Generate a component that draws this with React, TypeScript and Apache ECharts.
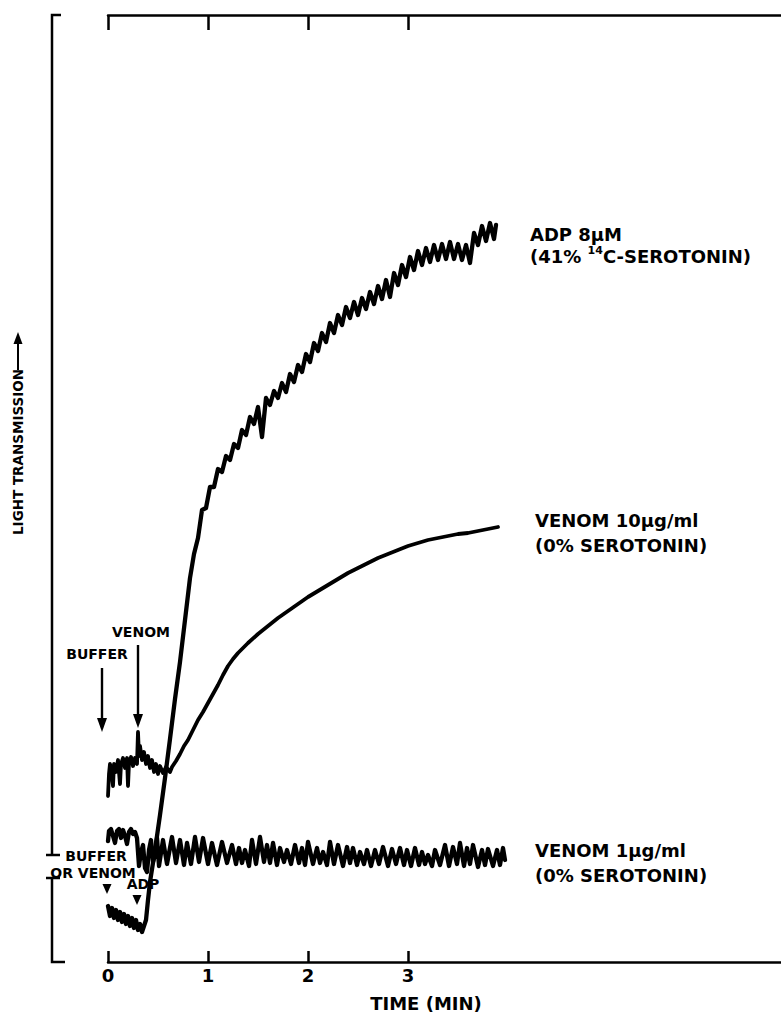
import React, { useEffect, useRef } from "react";
import * as echarts from "echarts";

// Time axis tick values (min)
const timeTicks = [0, 1, 2, 3];

// Traces: [time (min), light transmission (arbitrary units)]
const adpTrace: number[][] = [
  [0.0, 5.6], [0.02, 4.6], [0.04, 5.4], [0.06, 4.4], [0.08, 5.2], [0.1, 4.2], [0.12, 5.0], [0.14, 4.0],
  [0.16, 4.8], [0.18, 3.8], [0.2, 4.6], [0.22, 3.6], [0.24, 4.4], [0.26, 3.4], [0.28, 4.2], [0.3, 3.2],
  [0.32, 3.8], [0.34, 3.0], [0.36, 3.6], [0.38, 4.2], [0.4, 6.2], [0.42, 8.0], [0.47, 11.2], [0.52, 14.7],
  [0.57, 18.4], [0.62, 22.3], [0.67, 26.3], [0.72, 30.0], [0.77, 34.2],
  [0.82, 38.4], [0.86, 40.8], [0.9, 42.4], [0.94, 45.2], [0.98, 45.4], [1.02, 47.5], [1.06, 47.5], [1.1, 49.3],
  [1.14, 49.0], [1.18, 50.6], [1.22, 50.2], [1.26, 51.8], [1.3, 51.4], [1.34, 53.2], [1.38, 52.7], [1.42, 54.5],
  [1.46, 53.8], [1.5, 55.5], [1.54, 52.5], [1.58, 56.4], [1.62, 55.7], [1.66, 57.1], [1.7, 56.4], [1.74, 57.9],
  [1.78, 57.0], [1.82, 58.8], [1.86, 58.0], [1.9, 59.7], [1.94, 59.0], [1.98, 60.8], [2.02, 60.0], [2.06, 61.9],
  [2.1, 61.1], [2.14, 62.9], [2.18, 62.0], [2.22, 63.9], [2.26, 62.9], [2.3, 64.7], [2.34, 63.7], [2.38, 65.5],
  [2.42, 64.4], [2.46, 66.0], [2.5, 64.7], [2.54, 66.4], [2.58, 65.3], [2.62, 67.0], [2.66, 65.8], [2.7, 67.6],
  [2.74, 66.3], [2.78, 68.2], [2.82, 66.5], [2.86, 68.9], [2.9, 67.7], [2.94, 69.7], [2.98, 68.5], [3.02, 70.5],
  [3.06, 69.2], [3.1, 71.1], [3.14, 69.7], [3.18, 71.4], [3.22, 70.0], [3.26, 71.7], [3.3, 70.2], [3.34, 71.8],
  [3.38, 70.3], [3.42, 72.0], [3.46, 70.3], [3.5, 71.8], [3.54, 70.2], [3.58, 71.7], [3.62, 69.9], [3.66, 72.9],
  [3.7, 71.7], [3.74, 73.6], [3.78, 72.1], [3.82, 73.9], [3.86, 72.3], [3.88, 73.7],
];

const venom10Trace: number[][] = [
  [0.0, 16.6], [0.01, 18.8], [0.02, 19.8], [0.04, 18.6], [0.05, 17.6], [0.06, 19.8], [0.08, 19.0], [0.1, 20.2],
  [0.12, 17.8], [0.13, 19.8], [0.15, 20.4], [0.17, 19.4], [0.19, 20.4], [0.2, 17.6], [0.21, 19.9], [0.23, 20.5],
  [0.25, 19.6], [0.27, 20.4], [0.29, 19.8], [0.3, 23.0], [0.31, 20.6], [0.32, 21.6], [0.34, 20.2], [0.36, 21.0],
  [0.38, 19.8], [0.4, 20.6], [0.42, 19.4], [0.44, 20.2], [0.46, 19.0], [0.48, 19.8], [0.5, 18.8], [0.52, 19.6],
  [0.55, 18.9], [0.58, 19.5], [0.62, 19.0], [0.64, 19.5], [0.68, 20.1], [0.72, 20.8], [0.76, 21.6], [0.8, 22.2],
  [0.85, 23.2], [0.9, 24.2], [0.95, 25.0], [1.0, 25.9], [1.05, 26.8], [1.1, 27.7], [1.15, 28.7], [1.2, 29.6],
  [1.25, 30.3], [1.3, 30.9], [1.4, 31.9], [1.5, 32.8], [1.6, 33.6], [1.7, 34.4], [1.8, 35.1], [1.9, 35.8],
  [2.0, 36.5], [2.1, 37.1], [2.2, 37.7], [2.3, 38.3], [2.4, 38.9], [2.5, 39.4], [2.6, 39.9], [2.7, 40.4],
  [2.8, 40.8], [2.9, 41.2], [3.0, 41.6], [3.1, 41.9], [3.2, 42.2], [3.3, 42.4], [3.4, 42.6], [3.5, 42.8],
  [3.6, 42.9], [3.7, 43.1], [3.8, 43.3], [3.9, 43.5],
];

const venom1Trace: number[][] = [
  [0.0, 12.1], [0.01, 13.1], [0.03, 13.3], [0.05, 12.6], [0.07, 11.9], [0.09, 13.1], [0.11, 13.3], [0.13, 12.4],
  [0.15, 13.2], [0.17, 12.6], [0.19, 11.8], [0.21, 13.0], [0.23, 13.3], [0.25, 12.8], [0.27, 13.0], [0.29, 12.4],
  [0.31, 9.6], [0.33, 11.0], [0.35, 11.7], [0.37, 9.4], [0.39, 9.0], [0.41, 11.2], [0.43, 12.2], [0.45, 10.0],
  [0.47, 10.7], [0.49, 12.4], [0.51, 9.6], [0.55, 12.2], [0.59, 9.8], [0.64, 12.5], [0.68, 9.9], [0.72, 12.2],
  [0.76, 9.7], [0.79, 11.9], [0.83, 9.8], [0.87, 12.5], [0.91, 10.0], [0.95, 12.4], [1.0, 9.8], [1.04, 11.9],
  [1.09, 9.7], [1.14, 12.0], [1.19, 9.9], [1.24, 11.7], [1.28, 9.8], [1.31, 11.4], [1.34, 9.9], [1.37, 11.2],
  [1.41, 9.6], [1.44, 12.2], [1.48, 9.8], [1.52, 12.5], [1.56, 10.0], [1.59, 11.7], [1.62, 9.9], [1.65, 11.9],
  [1.69, 9.7], [1.72, 11.4], [1.76, 10.0], [1.79, 11.2], [1.83, 9.8], [1.87, 11.7], [1.91, 9.9], [1.94, 11.4],
  [1.97, 9.7], [2.0, 12.0], [2.05, 9.8], [2.09, 11.4], [2.12, 9.9], [2.15, 11.0], [2.19, 9.7], [2.22, 12.0],
  [2.26, 9.8], [2.3, 11.7], [2.35, 9.6], [2.39, 11.5], [2.42, 9.9], [2.45, 11.4], [2.49, 9.7], [2.52, 11.0],
  [2.56, 9.8], [2.59, 11.2], [2.63, 9.6], [2.67, 11.2], [2.71, 9.8], [2.75, 11.5], [2.8, 9.6], [2.84, 11.3],
  [2.88, 9.8], [2.92, 11.4], [2.96, 9.7], [2.99, 11.2], [3.03, 9.6], [3.07, 11.4], [3.11, 9.7], [3.14, 11.0],
  [3.17, 9.8], [3.2, 10.7], [3.24, 9.6], [3.27, 11.2], [3.32, 9.7], [3.37, 11.7], [3.41, 9.6], [3.45, 11.5],
  [3.49, 9.8], [3.52, 11.9], [3.56, 9.6], [3.59, 11.4], [3.62, 9.8], [3.65, 11.7], [3.7, 9.5], [3.74, 11.2],
  [3.77, 9.7], [3.8, 11.3], [3.85, 9.6], [3.89, 11.2], [3.92, 9.7], [3.95, 11.4], [3.97, 10.2],
];

const FONT = '"DejaVu Sans", "Liberation Sans", Arial, sans-serif';
const INK = "#000";

function label(x: number, y: number, text: string, size: number, align = "left") {
  return {
    type: "text",
    x,
    y,
    silent: true,
    style: {
      text,
      fill: INK,
      font: `bold ${size}px ${FONT}`,
      textAlign: align,
      textVerticalAlign: "middle",
    },
  };
}

function downArrow(x: number, yTop: number, yTip: number) {
  return [
    { type: "line", silent: true, shape: { x1: x, y1: yTop, x2: x, y2: yTip - 8 }, style: { stroke: INK, lineWidth: 2.4 } },
    {
      type: "polygon",
      silent: true,
      shape: { points: [[x - 5, yTip - 14], [x + 5, yTip - 14], [x, yTip]] },
      style: { fill: INK },
    },
  ];
}

function triangle(x: number, y: number) {
  return {
    type: "polygon",
    silent: true,
    shape: { points: [[x - 4.5, y - 5], [x + 4.5, y - 5], [x, y + 5]] },
    style: { fill: INK },
  };
}

function traceSeries(name: string, data: number[][], width: number) {
  return {
    name,
    type: "line",
    data,
    symbol: "none",
    showSymbol: false,
    clip: false,
    silent: true,
    lineStyle: { color: INK, width, join: "round", cap: "round" },
  };
}

export default function App() {
  const ref = useRef<HTMLDivElement>(null);

  useEffect(() => {
    if (!ref.current) return;
    const chart = echarts.init(ref.current, null, { renderer: "svg" });

    const axisLineStyle = { color: INK, width: 2.5 };

    const option: any = {
      animation: false,
      backgroundColor: "#fff",
      grid: { left: 108, right: 0, top: 15, bottom: 50, containLabel: false },
      xAxis: [
        {
          type: "value",
          position: "bottom",
          min: 0,
          max: 6.73,
          axisLine: { show: true, lineStyle: axisLineStyle },
          axisTick: { show: true, inside: true, length: 11, customValues: timeTicks, lineStyle: axisLineStyle },
          axisLabel: {
            show: true,
            customValues: timeTicks,
            formatter: (v: number) => String(v),
            color: INK,
            fontSize: 18,
            fontWeight: "bold",
            fontFamily: FONT,
            margin: 4,
          },
          splitLine: { show: false },
        },
        {
          type: "value",
          position: "top",
          min: 0,
          max: 6.73,
          axisLine: { show: true, lineStyle: axisLineStyle },
          axisTick: { show: true, inside: true, length: 15, customValues: timeTicks, lineStyle: axisLineStyle },
          axisLabel: { show: false },
          splitLine: { show: false },
        },
      ],
      yAxis: { type: "value", min: 0, max: 94.7, show: false },
      series: [
        traceSeries("ADP 8µM", adpTrace, 4.3),
        traceSeries("VENOM 10µg/ml", venom10Trace, 3.8),
        traceSeries("VENOM 1µg/ml", venom1Trace, 4.3),
      ],
      graphic: {
        elements: [
          // left axis with break
          { type: "polyline", silent: true, shape: { points: [[61, 15], [52, 15], [52, 855]] }, style: { stroke: INK, lineWidth: 2.5, fill: null } },
          { type: "line", silent: true, shape: { x1: 46, y1: 855, x2: 60, y2: 855 }, style: { stroke: INK, lineWidth: 2.5 } },
          { type: "line", silent: true, shape: { x1: 46, y1: 878, x2: 60, y2: 878 }, style: { stroke: INK, lineWidth: 2.5 } },
          { type: "polyline", silent: true, shape: { points: [[52, 878], [52, 962], [65, 962]] }, style: { stroke: INK, lineWidth: 2.5, fill: null } },
          // y-axis title with arrow
          {
            type: "group",
            x: 18,
            y: 535,
            rotation: Math.PI / 2,
            silent: true,
            children: [
              {
                type: "text",
                x: 0,
                y: 0,
                style: { text: "LIGHT TRANSMISSION", fill: INK, font: `bold 13.5px ${FONT}`, textAlign: "left", textVerticalAlign: "middle" },
              },
              { type: "line", shape: { x1: 165, y1: 0, x2: 194, y2: 0 }, style: { stroke: INK, lineWidth: 2 } },
              { type: "polygon", shape: { points: [[191, -4.5], [191, 4.5], [203, 0]] }, style: { fill: INK } },
            ],
          },
          // x-axis title
          label(426, 1003, "TIME (MIN)", 18, "center"),
          // right-side trace labels
          label(530, 234, "ADP 8µM", 18),
          {
            type: "text",
            x: 530,
            y: 256,
            silent: true,
            style: {
              text: "(41% {sup|14}C-SEROTONIN)",
              fill: INK,
              font: `bold 18px ${FONT}`,
              lineHeight: 22,
              textAlign: "left",
              textVerticalAlign: "middle",
              rich: {
                sup: { fontSize: 11, fontWeight: "bold", fontFamily: FONT, verticalAlign: "top", lineHeight: 12, fill: INK },
              },
            },
          },
          label(535, 520, "VENOM 10µg/ml", 18),
          label(535, 545, "(0% SEROTONIN)", 18),
          label(535, 850, "VENOM 1µg/ml", 18),
          label(535, 875, "(0% SEROTONIN)", 18),
          // injection markers
          label(97, 654, "BUFFER", 14, "center"),
          ...downArrow(102, 668, 732),
          label(141, 632, "VENOM", 14, "center"),
          ...downArrow(138, 645, 728),
          label(96, 856, "BUFFER", 14, "center"),
          label(93, 873, "OR VENOM", 14, "center"),
          triangle(107, 889),
          label(143, 884, "ADP", 14, "center"),
          triangle(137, 900),
        ],
      },
    };

    chart.setOption(option);
    return () => chart.dispose();
  }, []);

  return (
    <div
      ref={ref}
      style={{ position: "fixed", left: 0, top: 0, width: 781, height: 1012, background: "#fff" }}
    />
  );
}
